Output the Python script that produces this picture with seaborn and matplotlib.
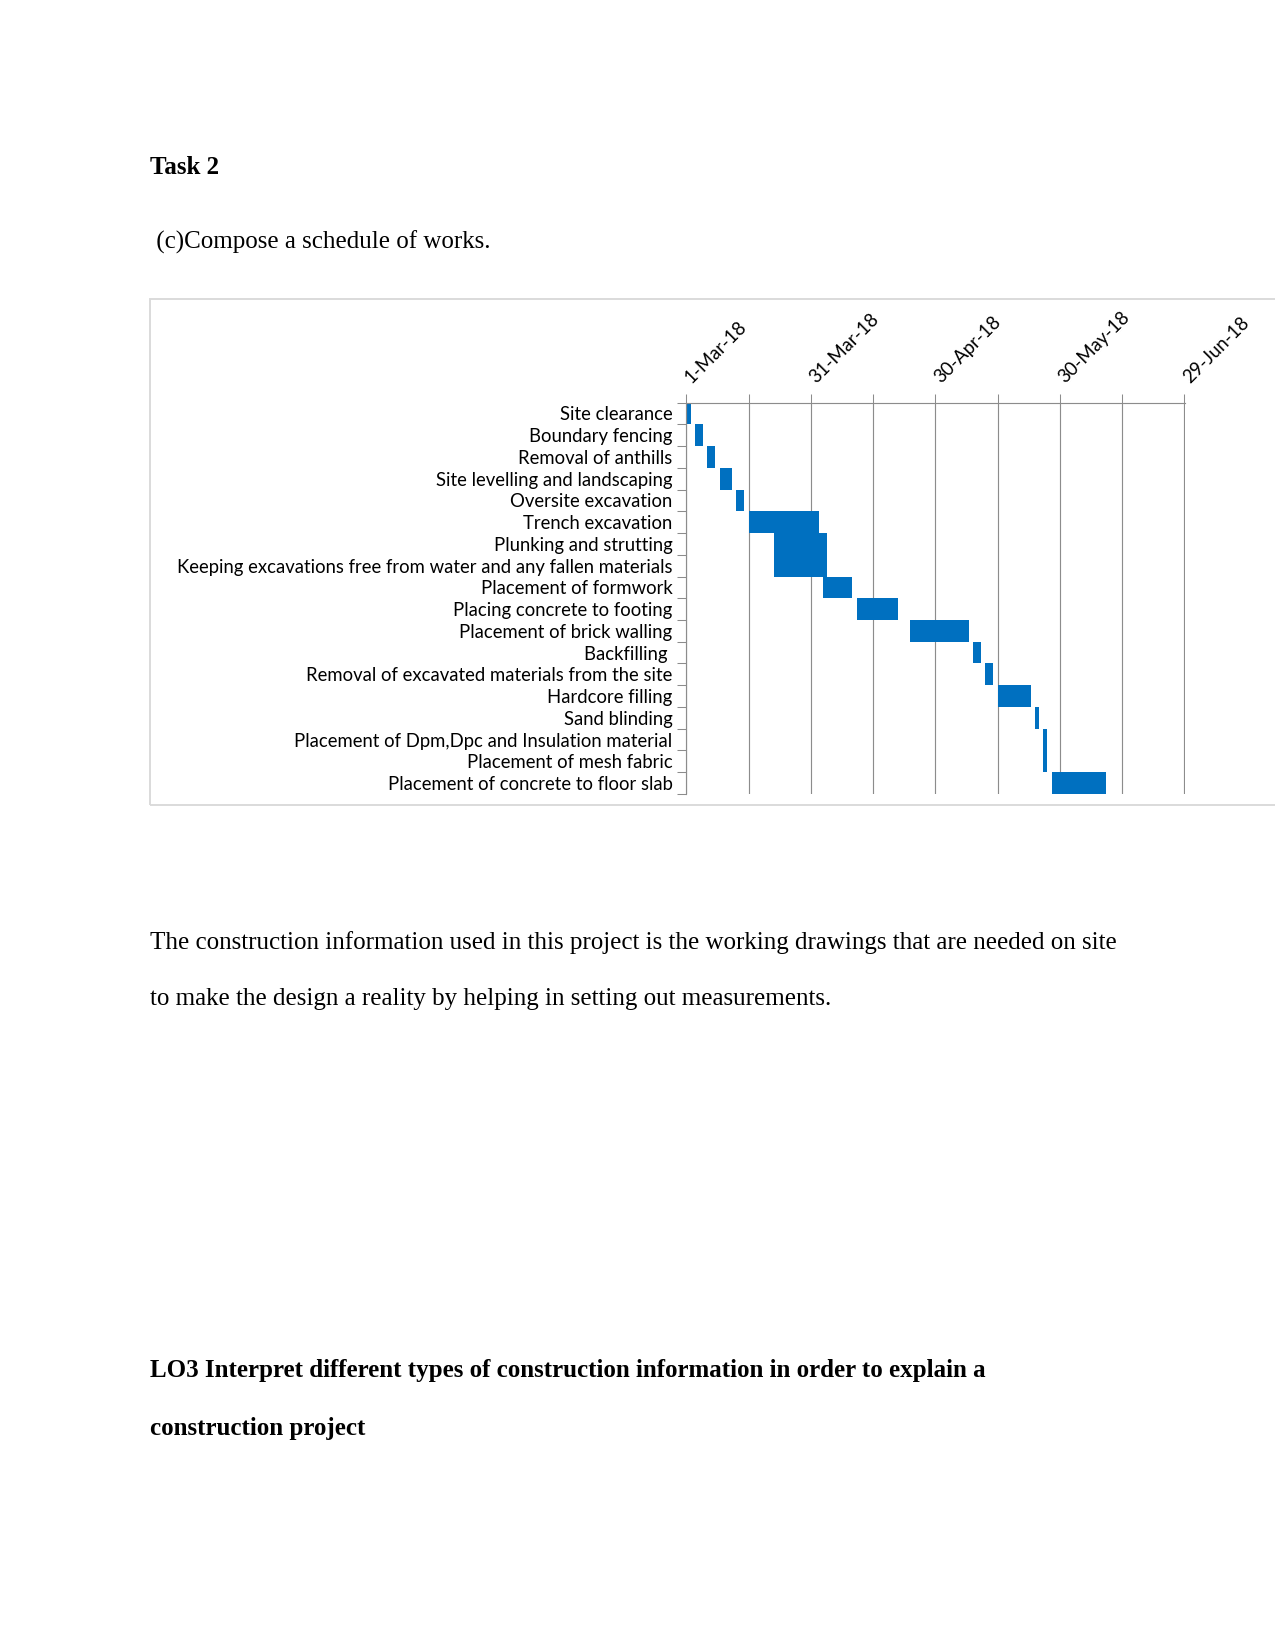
import matplotlib
matplotlib.use("Agg")
import matplotlib.pyplot as plt
import matplotlib.dates as mdates
import matplotlib.ticker as mticker
import matplotlib.transforms as mtransforms
from matplotlib.patches import Rectangle
import seaborn as sns
import pandas as pd
import numpy as np

# ---------------- data ----------------
tasks = [
    "Site clearance",
    "Boundary fencing",
    "Removal of anthills",
    "Site levelling and landscaping",
    "Oversite excavation",
    "Trench excavation",
    "Plunking and strutting",
    "Keeping excavations free from water and any fallen materials",
    "Placement of formwork",
    "Placing concrete to footing",
    "Placement of brick walling",
    "Backfilling ",
    "Removal of excavated materials from the site",
    "Hardcore filling",
    "Sand blinding",
    "Placement of Dpm,Dpc and Insulation material",
    "Placement of mesh fabric",
    "Placement of concrete to floor slab",
]
start_dates = [
    "2018-03-01", "2018-03-03", "2018-03-06", "2018-03-09", "2018-03-13",
    "2018-03-16", "2018-03-22", "2018-03-22", "2018-04-03", "2018-04-11",
    "2018-04-24", "2018-05-09", "2018-05-12", "2018-05-15", "2018-05-24",
    "2018-05-26", "2018-05-26", "2018-05-28",
]
durations_days = [1, 2, 2, 3, 2, 17, 13, 13, 7, 10, 14, 2, 2, 8, 1, 1, 1, 13]
axis_start = "2018-03-01"
axis_end = "2018-06-29"
label_step_days = 30
grid_step_days = 15

heading = "Task 2"
subheading = " (c)Compose a schedule of works."
para_lines = [
    "The construction information used in this project is the working drawings that are needed on site",
    "to make the design a reality by helping in setting out measurements.",
]
lo_lines = [
    "LO3 Interpret different types of construction information in order to explain a",
    "construction project",
]

# ---------------- style ----------------
sns.set_theme(style="white")
plt.rcParams['font.family'] = ['Lato', 'DejaVu Sans']
plt.rcParams['text.color'] = 'black'

BAR = "#0070C0"
GRID = "#8c8c8c"
CHART_FS = 8.9

W, H, DPI = 1275, 1651, 150
fig = plt.figure(figsize=(W / DPI, H / DPI), dpi=DPI)
fig.patch.set_facecolor("white")

df = pd.DataFrame({"task": tasks,
                   "start": pd.to_datetime(start_dates),
                   "duration": durations_days})
df["start_num"] = mdates.date2num(df["start"])

ax_left, ax_right, ax_top, ax_bot = 686.4, 1185.0, 402.5, 794.0
ax = fig.add_axes([ax_left / W, 1 - ax_bot / H, (ax_right - ax_left) / W, (ax_bot - ax_top) / H])
ax.set_facecolor("none")

sns.barplot(data=df, y="task", x="duration", order=tasks, orient="h",
            color=BAR, saturation=1, width=1.0, errorbar=None,
            left=df["start_num"].values, linewidth=0, edgecolor="none", ax=ax)

x0 = mdates.date2num(pd.Timestamp(axis_start))
x1 = mdates.date2num(pd.Timestamp(axis_end))
ax.set_xlim(x0, x1 + 0.15)
ax.set_ylim(len(tasks) - 0.5, -0.5)

ax.xaxis.tick_top()
ax.xaxis.set_label_position("top")
ax.set_xlabel("")
ax.set_ylabel("")

major = np.arange(x0, x1 + 0.1, label_step_days)
minor = np.arange(x0 + grid_step_days, x1, label_step_days)
ax.xaxis.set_major_locator(mticker.FixedLocator(major))
ax.xaxis.set_minor_locator(mticker.FixedLocator(minor))
ax.xaxis.set_major_formatter(mticker.NullFormatter())
ax.xaxis.set_minor_formatter(mticker.NullFormatter())

ax.tick_params(axis="x", which="both", top=True, bottom=False, length=4.3,
               width=0.5, color=GRID)

# rotated date labels at the major ticks (x in data coords, y at the top of the axes)
date_fmt = mdates.DateFormatter("%-d-%b-%y")
offset = mtransforms.ScaledTranslation(5.3 / DPI, 18.5 / DPI, fig.dpi_scale_trans)
for xv in major:
    ax.text(xv, 1.0, date_fmt(xv), transform=ax.get_xaxis_transform() + offset,
            rotation=45, rotation_mode="anchor", ha="left", va="baseline",
            fontsize=CHART_FS, color="black", clip_on=False)

ax.yaxis.set_minor_locator(mticker.FixedLocator(np.arange(-0.5, len(tasks), 1.0)))
ax.tick_params(axis="y", which="major", left=True, length=0, pad=6.7,
               labelsize=CHART_FS, labelcolor="black")
ax.tick_params(axis="y", which="minor", left=True, length=4.3, width=0.5, color=GRID)

ax.grid(axis="x", which="both", color=GRID, linewidth=0.55)
ax.grid(axis="y", visible=False)
ax.set_axisbelow(True)

for s in ["right", "bottom"]:
    ax.spines[s].set_visible(False)
for s in ["top", "left"]:
    ax.spines[s].set_visible(True)
    ax.spines[s].set_color(GRID)
    ax.spines[s].set_linewidth(0.55)

# chart frame
fig.patches.append(Rectangle((150 / W, 1 - 805 / H), 1.2, (805 - 299) / H,
                             transform=fig.transFigure, fill=False,
                             edgecolor="#d9d9d9", linewidth=0.9))

# document text
serif = ["Liberation Serif", "DejaVu Serif"]
fig.text(150.5 / W, 1 - 167.3 / H, heading, family=serif, fontsize=12,
         fontweight="bold", va="center", ha="left", color="black")
fig.text(150.5 / W, 1 - 242 / H, subheading, family=serif, fontsize=12,
         va="center", ha="left", color="black")
for i, ln in enumerate(para_lines):
    fig.text(150.5 / W, 1 - (942.2 + i * 56.8) / H, ln, family=serif,
             fontsize=12, va="center", ha="left", color="black")
for i, ln in enumerate(lo_lines):
    fig.text(150.5 / W, 1 - (1370.6 + i * 57.9) / H, ln, family=serif,
             fontsize=12, fontweight="bold", va="center", ha="left", color="black")

fig.savefig("out.png", dpi=DPI, facecolor="white")
